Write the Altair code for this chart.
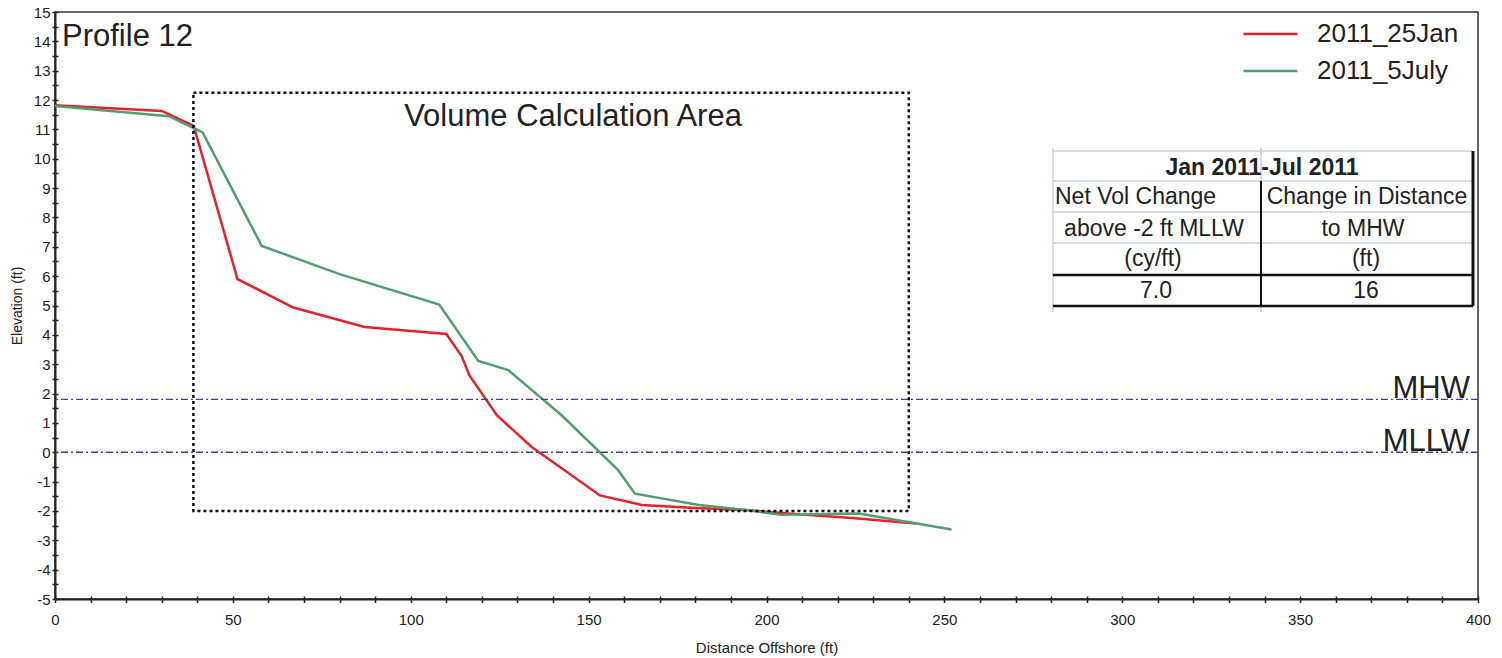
import altair as alt
import pandas as pd

# ---------------- data ----------------
jan_x = [0, 30, 39, 51.3, 67, 87, 110, 114.3, 116.5, 124.2, 134, 153.2, 165, 180, 195, 204, 224, 242]
jan_y = [11.82, 11.63, 11.12, 5.9, 4.93, 4.27, 4.03, 3.28, 2.62, 1.26, 0.18, -1.47, -1.8, -1.9, -1.98, -2.07, -2.24, -2.43]
jul_x = [0, 32, 41.5, 58.1, 80, 108, 119, 127.4, 142.4, 158.3, 163, 181, 195, 204, 226, 252]
jul_y = [11.8, 11.45, 10.9, 7.03, 6.07, 5.03, 3.11, 2.8, 1.26, -0.61, -1.41, -1.8, -1.98, -2.13, -2.09, -2.63]

series = ["2011_25Jan", "2011_5July"]
colors = ["#E8202A", "#529E72"]

datum_names = ["MHW", "MLLW"]
datum_elev = [1.8, 0.0]

box_x = [38.9, 240.0]
box_y = [-2.0, 12.25]

x_tick_values = list(range(0, 401, 10))
y_tick_values = [v / 2 for v in range(-10, 31)]

table_title = "Jan 2011-Jul 2011"
table_left = ["Net Vol Change", "above -2 ft MLLW", "(cy/ft)", "7.0"]
table_right = ["Change in Distance", "to MHW", "(ft)", "16"]

# ---------------- layout ----------------
W, H = 1423, 587
FONT = "Liberation Sans"
INK = "#222222"

profile = pd.DataFrame({
    "x": jan_x + jul_x,
    "y": jan_y + jul_y,
    "survey": [series[0]] * len(jan_x) + [series[1]] * len(jul_x),
})
datums = pd.DataFrame({"name": datum_names, "elev": datum_elev})
box = pd.DataFrame({"x0": [box_x[0]], "x1": [box_x[1]], "y0": [box_y[0]], "y1": [box_y[1]]})
one = pd.DataFrame({"i": [0]})

xscale = alt.Scale(domain=[0, 400], nice=False, zero=False)
yscale = alt.Scale(domain=[-5, 15], nice=False, zero=False)

x_axis = alt.Axis(
    orient="bottom",
    values=x_tick_values,
    labelExpr="datum.value % 50 === 0 ? '' + datum.value : ''",
    tickSize=3.5, tickWidth=1.5, tickColor=INK,
    domainColor=INK, domainWidth=2,
    labelFontSize=15, labelFont=FONT, labelColor=INK, labelPadding=10,
    labelFlush=False, labelOverlap=False,
    title="Distance Offshore (ft)", titleFontSize=15, titleFont=FONT,
    titleFontWeight="normal", titleColor=INK,
    titleBaseline="alphabetic", titleY=53,
    grid=False,
)
y_axis = alt.Axis(
    orient="left",
    values=y_tick_values,
    labelExpr="datum.value % 1 === 0 ? '' + datum.value : ''",
    tickSize=3, tickWidth=1.5, tickColor=INK,
    domainColor=INK, domainWidth=2,
    labelFontSize=15, labelFont=FONT, labelColor=INK, labelPadding=2,
    labelFlush=False, labelOverlap=False,
    title="Elevation (ft)", titleFontSize=14, titleFont=FONT,
    titleFontWeight="normal", titleColor=INK,
    titleBaseline="alphabetic", titleX=-34, titleY=H / 2, titleAngle=270,
    grid=False,
)
# inner halves of the crossing ticks
x_axis_in = alt.Axis(values=x_tick_values, labels=False, domain=False, title=None,
                     tickSize=3, tickWidth=1.5, tickColor=INK, offset=-3,
                     orient="bottom", grid=False)
y_axis_in = alt.Axis(values=y_tick_values, labels=False, domain=False, title=None,
                     tickSize=3, tickWidth=1.5, tickColor=INK, offset=-3,
                     orient="left", grid=False)

legend = alt.Legend(
    orient="none", legendX=1187, legendY=7, title=None,
    symbolType="stroke", symbolSize=2916, symbolStrokeWidth=2.5,
    labelFontSize=26, labelFont=FONT, labelColor=INK, labelOffset=18,
    clipHeight=30, rowPadding=7, padding=0,
)

lines = alt.Chart(profile).mark_line(strokeWidth=2.5).encode(
    x=alt.X("x:Q", scale=xscale, axis=x_axis),
    y=alt.Y("y:Q", scale=yscale, axis=y_axis),
    color=alt.Color("survey:N", scale=alt.Scale(domain=series, range=colors), legend=legend),
)

inner_ticks = alt.Chart(profile).mark_point(opacity=0).encode(
    x=alt.X("x:Q", scale=xscale, axis=x_axis_in),
    y=alt.Y("y:Q", scale=yscale, axis=y_axis_in),
)

datum_rules = alt.Chart(datums).mark_rule(
    color="#40409A", strokeWidth=1.3, strokeDash=[7, 3, 2, 3]
).encode(y=alt.Y("elev:Q", scale=yscale, axis=None))

datum_labels = alt.Chart(datums).mark_text(
    align="right", baseline="alphabetic", fontSize=31, font=FONT, color=INK, dy=-1
).encode(
    x=alt.value(1415),
    y=alt.Y("elev:Q", scale=yscale, axis=None),
    text="name:N",
)

box_layer = alt.Chart(box).mark_rect(
    fillOpacity=0, stroke="#111111", strokeWidth=2.5, strokeDash=[3, 3]
).encode(
    x=alt.X("x0:Q", scale=xscale, axis=None), x2="x1:Q",
    y=alt.Y("y0:Q", scale=yscale, axis=None), y2="y1:Q",
)


def label(text, x, y, size, align="left", weight="normal"):
    return alt.Chart(one).mark_text(
        align=align, baseline="alphabetic", fontSize=size, font=FONT,
        color=INK, fontWeight=weight,
    ).encode(x=alt.value(x), y=alt.value(y), text=alt.value(text))


def hline(x1, x2, y, color, width):
    return alt.Chart(one).mark_rule(color=color, strokeWidth=width).encode(
        x=alt.value(x1), x2=alt.value(x2), y=alt.value(y))


def vline(x, y1, y2, color, width):
    return alt.Chart(one).mark_rule(color=color, strokeWidth=width).encode(
        x=alt.value(x), y=alt.value(y1), y2=alt.value(y2))


# table geometry (pixels, plot-relative)
TL, TM, TR = 998, 1206, 1418
rows = [139, 169, 200, 231, 263, 294]
GRAY = "#C9D1DC"

table_layers = [
    hline(TL, TR, rows[0], GRAY, 1.5),
    hline(TL, TR, rows[1], GRAY, 1.5),
    hline(TL, TR, rows[2], GRAY, 1.5),
    hline(TL, TR, rows[3], GRAY, 1.5),
    vline(TL, 136, 300, GRAY, 1.5),
    vline(TM, 136, rows[1], GRAY, 1.5),
    vline(TM, rows[5], 300, GRAY, 1.5),
    vline(TM, rows[1], rows[5], "#111111", 2),
    vline(TR, rows[0], rows[5], "#111111", 3),
    hline(TL, TR, rows[4], "#111111", 2.5),
    hline(TL, TR, rows[5], "#111111", 2.5),
    label(table_title, 1207, 163, 23, "center", "bold"),
    label(table_left[0], 1000, 192, 23, "left"),
    label(table_right[0], 1312, 192, 23, "center"),
    label(table_left[1], 1099, 224, 23, "center"),
    label(table_right[1], 1308, 224, 23, "center"),
    label(table_left[2], 1098, 254, 23, "center"),
    label(table_right[2], 1311, 254, 23, "center"),
    label(table_left[3], 1101, 286, 23, "center"),
    label(table_right[3], 1311, 286, 23, "center"),
]

titles = [
    label("Profile 12", 7, 34, 31, "left"),
    label("Volume Calculation Area", 518, 114, 31, "center"),
]

chart = alt.layer(
    lines, inner_ticks, box_layer, datum_rules, datum_labels, *titles, *table_layers
).resolve_axis(x="independent", y="independent").properties(
    width=W, height=H,
    autosize=alt.AutoSizeParams(type="none"),
    padding={"left": 55, "top": 12, "right": 24, "bottom": 59},
    background="white",
).configure_view(stroke="#333333", strokeWidth=1.5)

chart.save("out.html", embed_options={"renderer": "svg", "actions": False})
